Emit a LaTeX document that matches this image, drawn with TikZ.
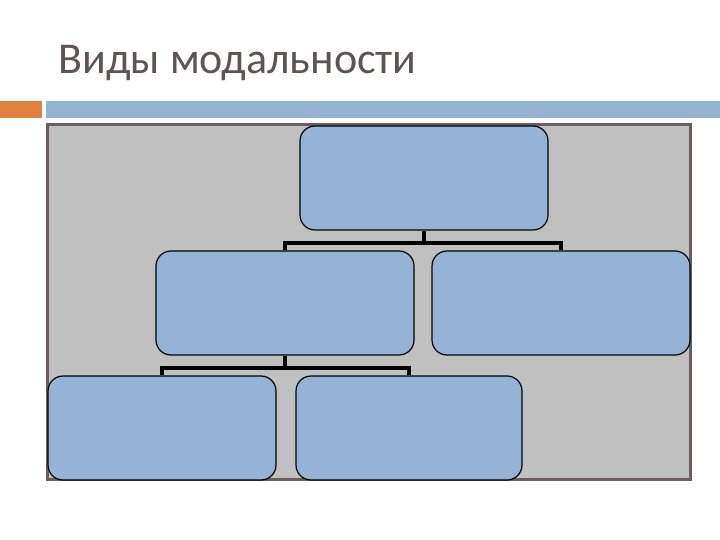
\documentclass[tikz,border=0pt]{standalone}
\usepackage{fontspec}
\setmainfont{Carlito}
\definecolor{titlegray}{RGB}{94,84,82}
\definecolor{barorange}{RGB}{226,128,64}
\definecolor{barblue}{RGB}{148,179,210}
\definecolor{panelgray}{RGB}{192,192,192}
\definecolor{panelrim}{RGB}{108,94,94}
\definecolor{boxblue}{RGB}{149,179,215}
\tikzset{
    kind/.style={draw=black,line width=1.2pt,fill=boxblue,rounded corners=15pt,
        inner sep=0pt,minimum height=104pt},
    link/.style={line width=4.2pt}
}
\begin{document}
\begin{tikzpicture}[x=1pt,y=-1pt]
        \useasboundingbox (0,0) rectangle (720,540);
        \node[anchor=base west,text=titlegray,font=\fontsize{44}{48}\selectfont] (title) at (55,74) {Виды модальности};
        \fill[barorange] (0,101) rectangle (42,118);
        \fill[barblue] (46,101) rectangle (720,118);
        \draw[panelrim,line width=2.6pt,fill=panelgray] (47.5,124.5) rectangle (690.5,479.5);
        \node[kind,minimum width=248pt] (modal) at (424,178) {};
        \node[kind,minimum width=258pt] (left) at (285,303) {};
        \node[kind,minimum width=258pt] (right) at (561,303) {};
        \node[kind,minimum width=228pt] (lowleft) at (162,428) {};
        \node[kind,minimum width=226pt] (lowright) at (409,428) {};
        \draw[link] (modal.south) -- ++(0,12) -| (left.north);
        \draw[link] (modal.south) -- ++(0,12) -| (right.north);
        \draw[link] (left.south) -- ++(0,12) -| (lowleft.north);
        \draw[link] (left.south) -- ++(0,12) -| (lowright.north);
    \end{tikzpicture}
\end{document}
